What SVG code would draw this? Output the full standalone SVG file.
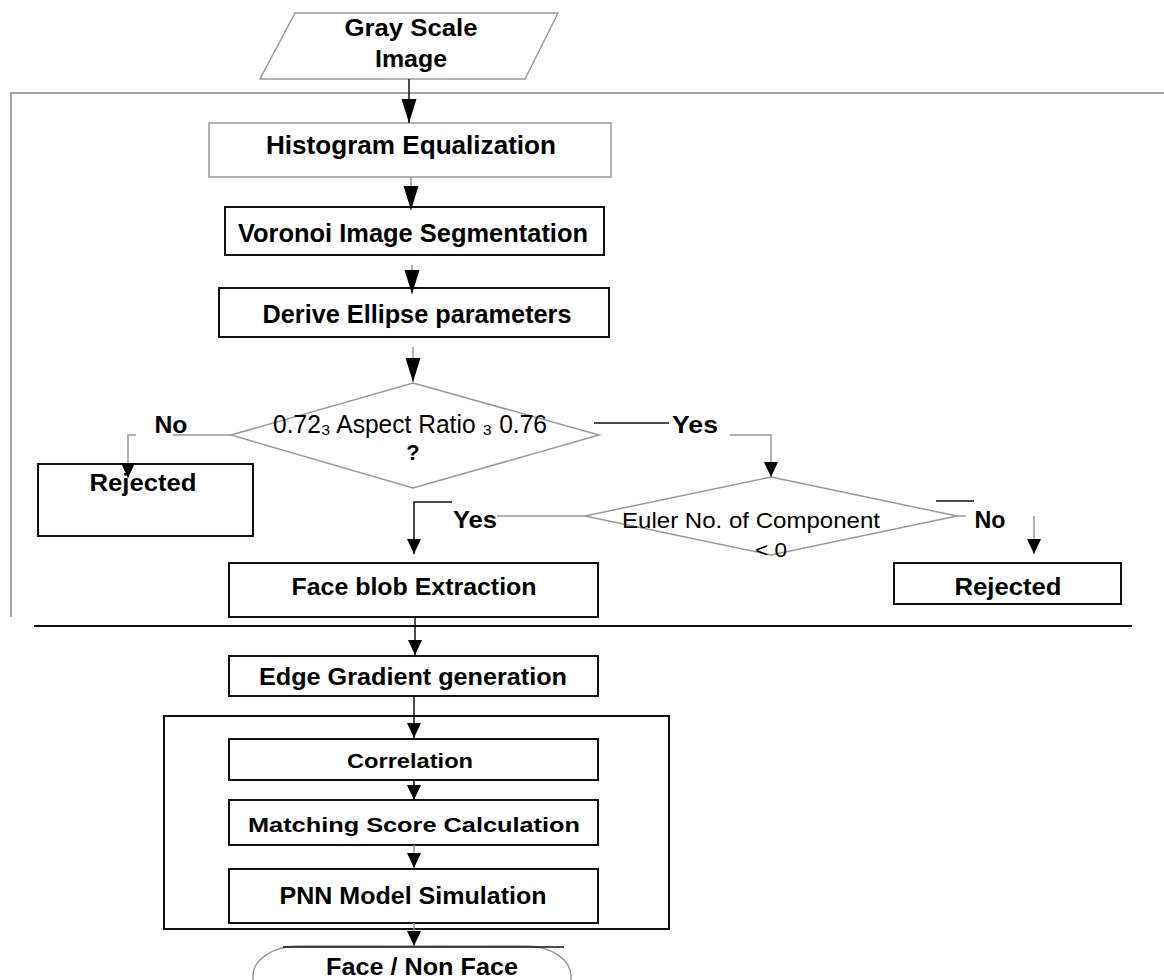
<svg xmlns="http://www.w3.org/2000/svg" width="1164" height="980" viewBox="0 0 1164 980">
<defs>
<style>
.t{font-family:"Liberation Sans",Arial,sans-serif;font-weight:bold;fill:#000;text-anchor:middle}
.n{font-family:"Liberation Sans",Arial,sans-serif;font-weight:normal;fill:#000;text-anchor:middle}
.box{fill:#fff;stroke:#111;stroke-width:2}
.obox{fill:none;stroke:#111;stroke-width:2}
.gbox{fill:#fff;stroke:#999;stroke-width:1.5}
.dia{fill:#fff;stroke:#999;stroke-width:1.5}
.frame{fill:none;stroke:#888;stroke-width:1.5}
.sep{fill:none;stroke:#111;stroke-width:2}
.c{fill:none;stroke:#111;stroke-width:1.5}
.g{fill:none;stroke:#999;stroke-width:1.5}
</style>
<marker id="big" markerUnits="userSpaceOnUse" markerWidth="26" markerHeight="18" refX="24" refY="8" orient="auto"><path d="M0,0.5 L24,8 L0,15.5 z" fill="#000"/></marker>
<marker id="sm" markerUnits="userSpaceOnUse" markerWidth="18" markerHeight="16" refX="15" refY="7" orient="auto"><path d="M0,0 L15,7 L0,14 z" fill="#000"/></marker>
</defs>
<rect width="1164" height="980" fill="#fff"/>

<g id="frame">
<path class="frame" d="M11,617 L11,93 L1164,93"/>
<line class="sep" x1="34" y1="626" x2="1132" y2="626"/>
</g>

<g id="n-input">
<polygon class="dia" points="295,13 558,13 525,79 260,79"/>
<text class="t" x="411" y="36" font-size="23" textLength="133" lengthAdjust="spacingAndGlyphs">Gray Scale</text>
<text class="t" x="411" y="67" font-size="23" textLength="72" lengthAdjust="spacingAndGlyphs">Image</text>
</g>

<g id="n-hist">
<rect class="gbox" x="209" y="123" width="402" height="54"/>
<text class="t" x="411" y="154" font-size="26" textLength="290" lengthAdjust="spacingAndGlyphs">Histogram Equalization</text>
</g>

<g id="n-voronoi">
<rect class="box" x="225" y="207" width="379" height="48"/>
<text class="t" x="413" y="242" font-size="25" textLength="350" lengthAdjust="spacingAndGlyphs">Voronoi Image Segmentation</text>
</g>

<g id="n-ellipse">
<rect class="box" x="219" y="288" width="390" height="49"/>
<text class="t" x="417" y="323" font-size="25" textLength="309" lengthAdjust="spacingAndGlyphs">Derive Ellipse parameters</text>
</g>

<g id="n-aspect">
<polygon class="dia" points="413,383 599,435 413,488 231,435"/>
<text class="n" x="410" y="433" font-size="25" textLength="274" lengthAdjust="spacingAndGlyphs">0.72₃ Aspect Ratio ₃ 0.76</text>
<text class="t" x="413" y="460" font-size="22">?</text>
<text class="t" x="171" y="433" font-size="24" textLength="33" lengthAdjust="spacingAndGlyphs">No</text>
<text class="t" x="695" y="433" font-size="24" textLength="46" lengthAdjust="spacingAndGlyphs">Yes</text>
</g>

<g id="n-rejected1">
<rect class="box" x="38" y="464" width="215" height="72"/>
<text class="t" x="143" y="491" font-size="24" textLength="107" lengthAdjust="spacingAndGlyphs">Rejected</text>
</g>

<g id="n-euler">
<polygon class="dia" points="771,477 957,516 771,555 585,516"/>
<text class="n" x="751" y="528" font-size="22" textLength="258" lengthAdjust="spacingAndGlyphs">Euler No. of Component</text>
<text class="n" x="771" y="557" font-size="20" textLength="32" lengthAdjust="spacingAndGlyphs">&lt; 0</text>
<text class="t" x="475" y="528" font-size="24" textLength="44" lengthAdjust="spacingAndGlyphs">Yes</text>
<text class="t" x="990" y="528" font-size="24" textLength="31" lengthAdjust="spacingAndGlyphs">No</text>
</g>

<g id="n-rejected2">
<rect class="box" x="894" y="563" width="227" height="41"/>
<text class="t" x="1008" y="595" font-size="24" textLength="107" lengthAdjust="spacingAndGlyphs">Rejected</text>
</g>

<g id="n-faceblob">
<rect class="box" x="229" y="563" width="369" height="54"/>
<text class="t" x="414" y="595" font-size="24" textLength="245" lengthAdjust="spacingAndGlyphs">Face blob Extraction</text>
</g>

<g id="n-edge">
<rect class="box" x="229" y="656" width="369" height="40"/>
<text class="t" x="413" y="685" font-size="24" textLength="308" lengthAdjust="spacingAndGlyphs">Edge Gradient generation</text>
</g>

<g id="n-group">
<rect class="obox" x="164" y="716" width="505" height="213"/>
</g>

<g id="n-corr">
<rect class="box" x="229" y="739" width="369" height="41"/>
<text class="t" x="410" y="768" font-size="21" textLength="126" lengthAdjust="spacingAndGlyphs">Correlation</text>
</g>

<g id="n-match">
<rect class="box" x="229" y="800" width="369" height="45"/>
<text class="t" x="414" y="832" font-size="21" textLength="332" lengthAdjust="spacingAndGlyphs">Matching Score Calculation</text>
</g>

<g id="n-pnn">
<rect class="box" x="229" y="869" width="369" height="54"/>
<text class="t" x="413" y="904" font-size="23" textLength="267" lengthAdjust="spacingAndGlyphs">PNN Model Simulation</text>
</g>

<g id="n-output">
<rect class="dia" x="253" y="946" width="318" height="64" rx="45" ry="30"/>
<line class="c" x1="283" y1="947" x2="564" y2="947"/>
<text class="t" x="422" y="975" font-size="23" textLength="192" lengthAdjust="spacingAndGlyphs">Face / Non Face</text>
</g>

<g id="connectors">
<line class="c" x1="409" y1="79" x2="409" y2="123" marker-end="url(#big)"/>
<line class="g" x1="411" y1="177" x2="411" y2="210" marker-end="url(#big)"/>
<line class="g" x1="412" y1="265" x2="412" y2="294" marker-end="url(#big)"/>
<line class="g" x1="413" y1="347" x2="413" y2="382" marker-end="url(#big)"/>
<line class="g" x1="173" y1="435" x2="231" y2="435"/>
<path class="g" d="M136,435 L128,435 L128,478" marker-end="url(#sm)"/>
<line class="c" x1="594" y1="423" x2="669" y2="423"/>
<path class="g" d="M730,435 L771,435 L771,477" marker-end="url(#sm)"/>
<line class="g" x1="497" y1="516" x2="585" y2="516"/>
<path class="c" d="M452,502 L414,502 L414,554" marker-end="url(#sm)"/>
<line class="c" x1="936" y1="501" x2="974" y2="501"/>
<line class="g" x1="957" y1="516" x2="966" y2="516"/>
<line class="g" x1="1034" y1="516" x2="1034" y2="554" marker-end="url(#sm)"/>
<line class="c" x1="415" y1="617" x2="415" y2="655" marker-end="url(#sm)"/>
<line class="c" x1="414" y1="696" x2="414" y2="738" marker-end="url(#sm)"/>
<line class="c" x1="414" y1="780" x2="414" y2="800" marker-end="url(#sm)"/>
<line class="g" x1="414" y1="845" x2="414" y2="868" marker-end="url(#sm)"/>
<line class="g" x1="414" y1="923" x2="414" y2="946" marker-end="url(#sm)"/>
</g>
</svg>
